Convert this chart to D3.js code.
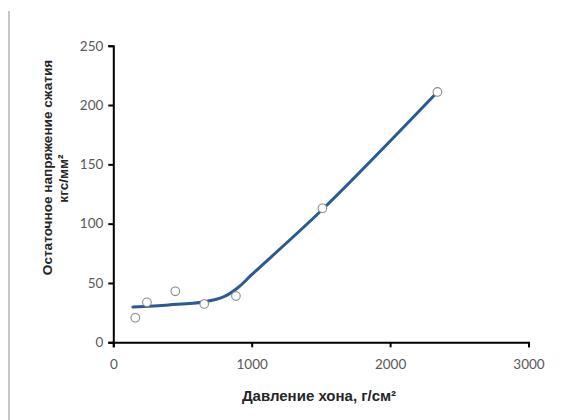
<!DOCTYPE html>
<html>
<head>
<meta charset="utf-8">
<script src="https://cdn.jsdelivr.net/npm/d3@7"></script>
<style>
  html, body { margin: 0; padding: 0; background: #fff; }
  svg { display: block; }
</style>
</head>
<body>
<svg id="chart" width="581" height="420"></svg>
<script>
// Measured points: honing pressure (g/cm²) vs residual compressive stress (kgf/mm²)
const pressure = [159, 243, 448, 657, 886, 1511, 2342];
const stress   = [20.7, 33.7, 43, 32.3, 39, 113, 211];

// Smoothed trend curve through the measurements
const curvePressure = [142, 400, 650, 800, 900, 1000, 1520, 2342];
const curveStress   = [29.7, 31.5, 34, 38.5, 46, 57, 113, 211];

const xTicks = [0, 1000, 2000, 3000];
const yTicks = [0, 50, 100, 150, 200, 250];

const xTitle = "Давление хона, г/см²";
const yTitle = ["Остаточное напряжение сжатия", "кгс/мм²"];

const svg = d3.select("#chart");
const W = 581, H = 420;

// frame line on the left edge
svg.append("line")
  .attr("x1", 9).attr("x2", 9).attr("y1", 11).attr("y2", H)
  .attr("stroke", "#c6c6c6").attr("stroke-width", 2);

const x = d3.scaleLinear().domain([0, 3000]).range([113.3, 528.5]);
const y = d3.scaleLinear().domain([0, 250]).range([342.3, 45.7]);

const tickFont = "Lato, 'Open Sans', sans-serif";
const titleFont = "'Liberation Sans', Arial, sans-serif";

// Y axis
const yAxis = svg.append("g")
  .attr("transform", `translate(${x(0)},0)`)
  .call(d3.axisLeft(y).tickValues(yTicks).tickSize(5).tickPadding(5));
yAxis.select(".domain").attr("stroke", "#000").attr("stroke-width", 2);
yAxis.selectAll(".tick line").attr("stroke", "#000").attr("stroke-width", 2);
yAxis.selectAll(".tick text")
  .attr("fill", "#595959").style("font-family", tickFont).style("font-size", "13.5px");

// X axis
const xAxis = svg.append("g")
  .attr("transform", `translate(0,${y(0)})`)
  .call(d3.axisBottom(x).tickValues(xTicks).tickSize(5).tickPadding(12).tickFormat(d3.format("d")));
xAxis.select(".domain").attr("stroke", "#000").attr("stroke-width", 2);
xAxis.selectAll(".tick line").attr("stroke", "#000").attr("stroke-width", 2);
xAxis.selectAll(".tick text")
  .attr("fill", "#595959").style("font-family", tickFont).style("font-size", "13.5px");

// Axis titles
svg.append("text")
  .attr("x", 319).attr("y", 401)
  .attr("text-anchor", "middle")
  .style("font-family", titleFont)
  .style("font-weight", "bold").style("font-size", "15px")
  .attr("fill", "#262626")
  .text(xTitle);

const yt = svg.append("g")
  .style("font-family", titleFont)
  .style("font-weight", "bold").style("font-size", "13.6px")
  .attr("fill", "#262626");
yt.append("text")
  .attr("transform", "translate(52,167.5) rotate(-90)")
  .attr("text-anchor", "middle")
  .text(yTitle[0]);
yt.append("text")
  .attr("transform", "translate(68,178.5) rotate(-90)")
  .attr("text-anchor", "middle")
  .text(yTitle[1]);

// Trend curve
const curveData = curvePressure.map((p, i) => [p, curveStress[i]]);
svg.append("path")
  .datum(curveData)
  .attr("fill", "none")
  .attr("stroke", "#2a5a92")
  .attr("stroke-width", 3)
  .attr("stroke-linecap", "round")
  .attr("d", d3.line().x(d => x(d[0])).y(d => y(d[1])).curve(d3.curveCatmullRom.alpha(0.5)));

// Measurement markers
svg.append("g").selectAll("circle")
  .data(pressure.map((p, i) => [p, stress[i]]))
  .join("circle")
  .attr("cx", d => x(d[0]))
  .attr("cy", d => y(d[1]))
  .attr("r", 4.3)
  .attr("fill", "#fff")
  .attr("stroke", "#8a8a8a")
  .attr("stroke-width", 1.1);
</script>
</body>
</html>
